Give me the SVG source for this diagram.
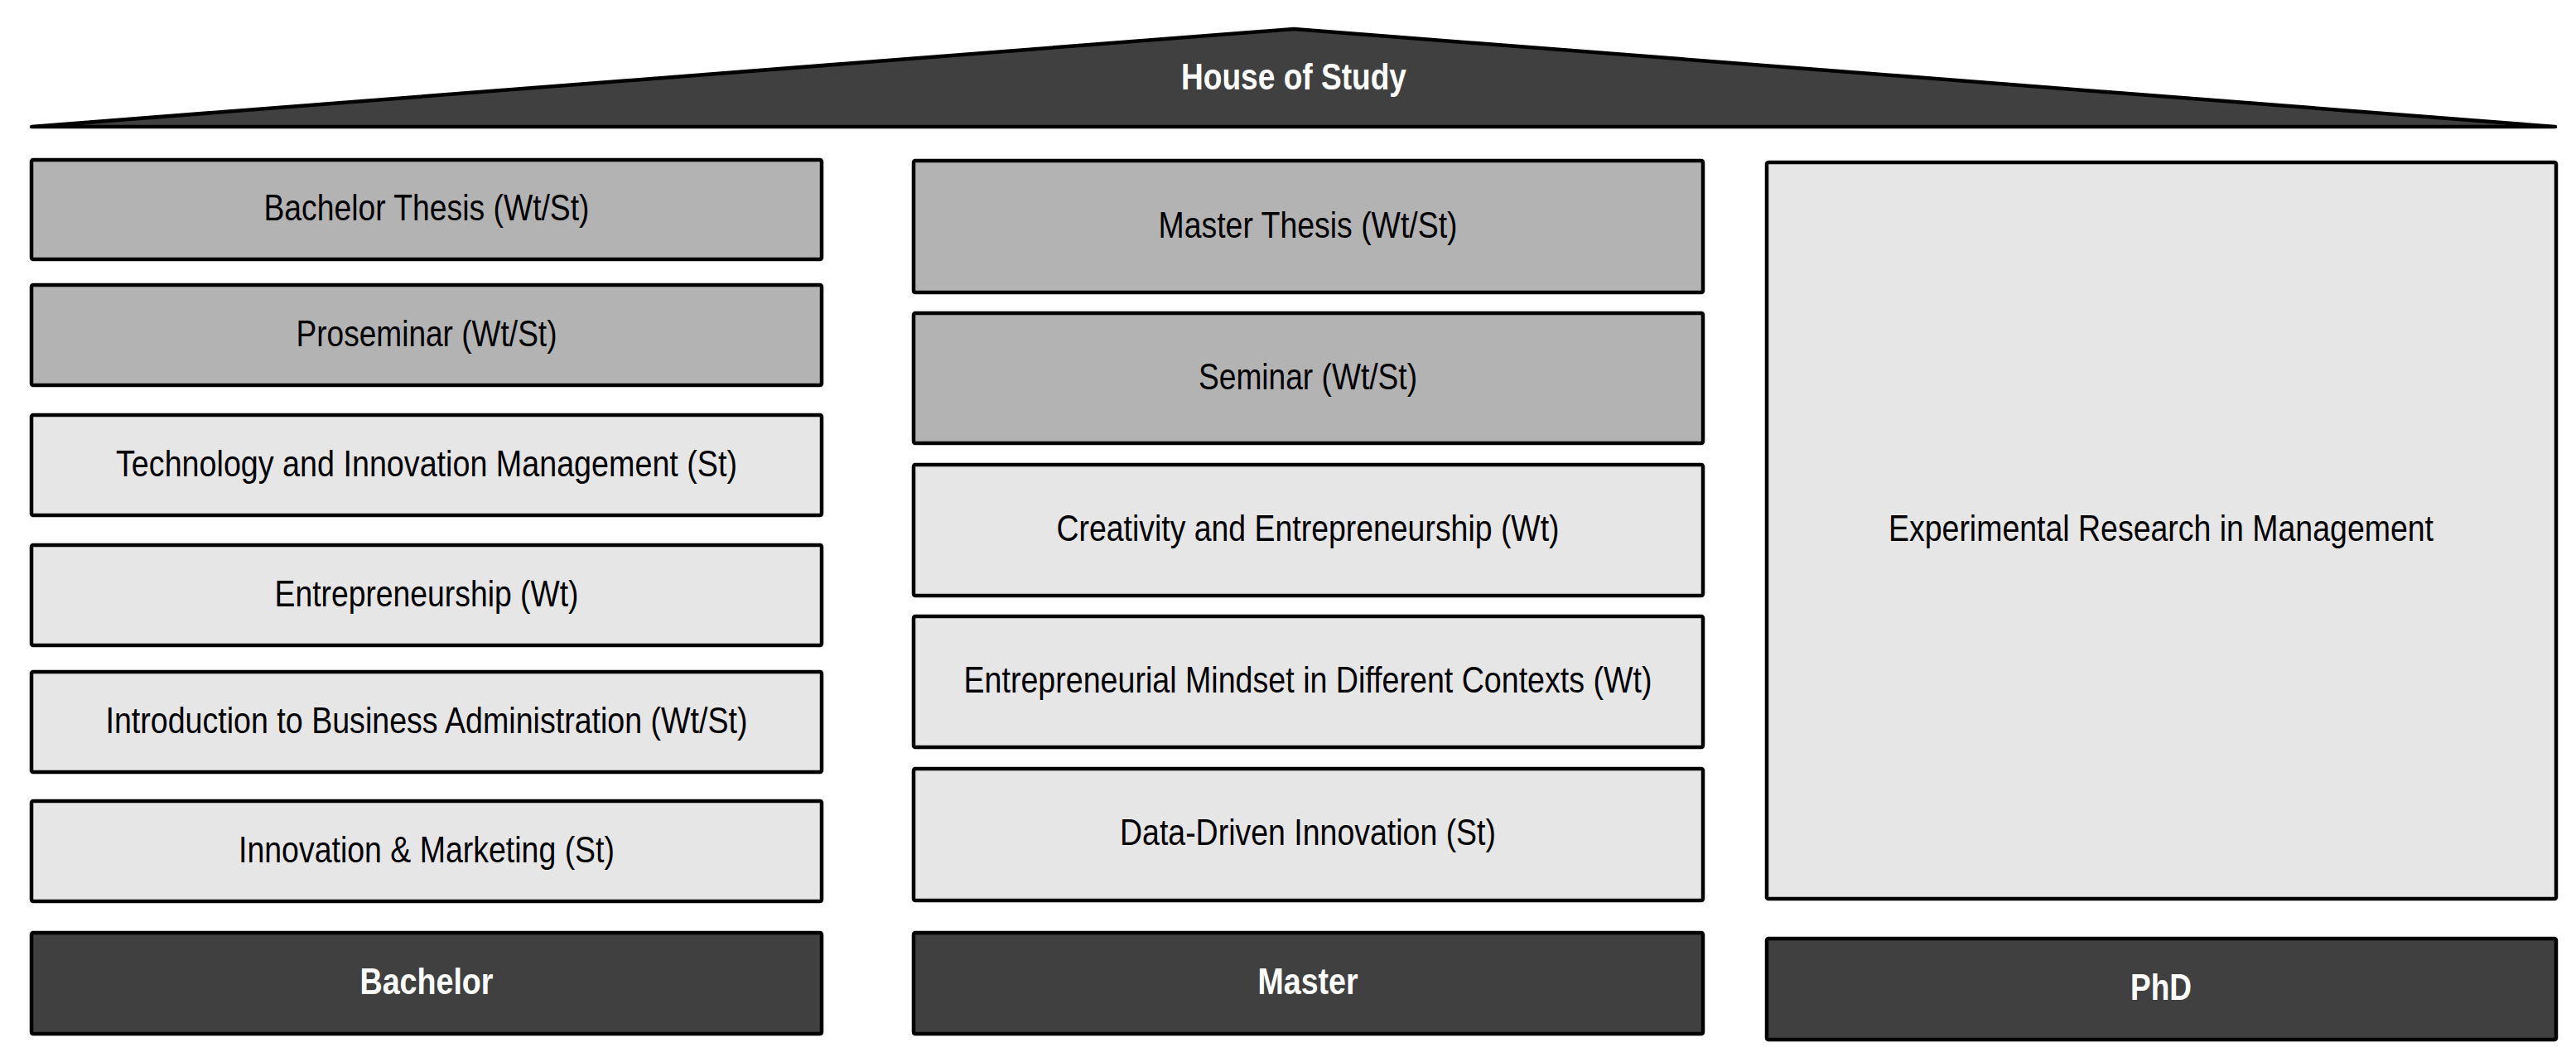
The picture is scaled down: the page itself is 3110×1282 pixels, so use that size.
<svg xmlns="http://www.w3.org/2000/svg" width="3110" height="1282" viewBox="0 0 3110 1282">
<style>
.box{stroke:#000;stroke-width:4.5;stroke-linejoin:round}
.dark{fill:#404040}
.mid{fill:#b3b3b3}
.light{fill:#e6e6e6}
text{font-family:"Liberation Sans Narrow","Arial Narrow","Liberation Sans",Arial,sans-serif;font-size:44px;text-anchor:middle}
.lbl{fill:#000}
.hdr{fill:#fff;font-weight:bold}
</style>
<rect width="3110" height="1282" fill="#fff"/>
<g id="roof">
<polygon class="box dark" points="38,153 1562,35 3085,153"/>
<text class="hdr" x="1562" y="108" textLength="272" lengthAdjust="spacingAndGlyphs">House of Study</text>
</g>
<g id="bachelor-thesis"><rect class="box mid" x="38" y="193" width="954" height="120" rx="2"/><text class="lbl" x="515" y="266" textLength="393" lengthAdjust="spacingAndGlyphs">Bachelor Thesis (Wt/St)</text></g>
<g id="proseminar"><rect class="box mid" x="38" y="344" width="954" height="121" rx="2"/><text class="lbl" x="515" y="418" textLength="315" lengthAdjust="spacingAndGlyphs">Proseminar (Wt/St)</text></g>
<g id="tim"><rect class="box light" x="38" y="501" width="954" height="121" rx="2"/><text class="lbl" x="515" y="575" textLength="750" lengthAdjust="spacingAndGlyphs">Technology and Innovation Management (St)</text></g>
<g id="entrepreneurship"><rect class="box light" x="38" y="658" width="954" height="121" rx="2"/><text class="lbl" x="515" y="732" textLength="367" lengthAdjust="spacingAndGlyphs">Entrepreneurship (Wt)</text></g>
<g id="intro-ba"><rect class="box light" x="38" y="811" width="954" height="121" rx="2"/><text class="lbl" x="515" y="885" textLength="775" lengthAdjust="spacingAndGlyphs">Introduction to Business Administration (Wt/St)</text></g>
<g id="innovation-marketing"><rect class="box light" x="38" y="967" width="954" height="121" rx="2"/><text class="lbl" x="515" y="1041" textLength="454" lengthAdjust="spacingAndGlyphs">Innovation &amp; Marketing (St)</text></g>
<g id="bachelor"><rect class="box dark" x="38" y="1126" width="954" height="122" rx="2"/><text class="hdr" x="515" y="1200" textLength="161" lengthAdjust="spacingAndGlyphs">Bachelor</text></g>
<g id="master-thesis"><rect class="box mid" x="1103" y="194" width="953" height="159" rx="2"/><text class="lbl" x="1579" y="287" textLength="361" lengthAdjust="spacingAndGlyphs">Master Thesis (Wt/St)</text></g>
<g id="seminar"><rect class="box mid" x="1103" y="378" width="953" height="157" rx="2"/><text class="lbl" x="1579" y="470" textLength="264" lengthAdjust="spacingAndGlyphs">Seminar (Wt/St)</text></g>
<g id="creativity"><rect class="box light" x="1103" y="561" width="953" height="158" rx="2"/><text class="lbl" x="1579" y="653" textLength="607" lengthAdjust="spacingAndGlyphs">Creativity and Entrepreneurship (Wt)</text></g>
<g id="mindset"><rect class="box light" x="1103" y="744" width="953" height="158" rx="2"/><text class="lbl" x="1579" y="836" textLength="831" lengthAdjust="spacingAndGlyphs">Entrepreneurial Mindset in Different Contexts (Wt)</text></g>
<g id="data-driven"><rect class="box light" x="1103" y="928" width="953" height="159" rx="2"/><text class="lbl" x="1579" y="1020" textLength="454" lengthAdjust="spacingAndGlyphs">Data-Driven Innovation (St)</text></g>
<g id="master"><rect class="box dark" x="1103" y="1126" width="953" height="122" rx="2"/><text class="hdr" x="1579" y="1200" textLength="121" lengthAdjust="spacingAndGlyphs">Master</text></g>
<g id="experimental"><rect class="box light" x="2133" y="196" width="953" height="889" rx="2"/><text class="lbl" x="2609" y="653" textLength="658" lengthAdjust="spacingAndGlyphs">Experimental Research in Management</text></g>
<g id="phd"><rect class="box dark" x="2133" y="1133" width="953" height="122" rx="2"/><text class="hdr" x="2609" y="1207" textLength="74" lengthAdjust="spacingAndGlyphs">PhD</text></g>
<g id="connectors"></g>
</svg>
